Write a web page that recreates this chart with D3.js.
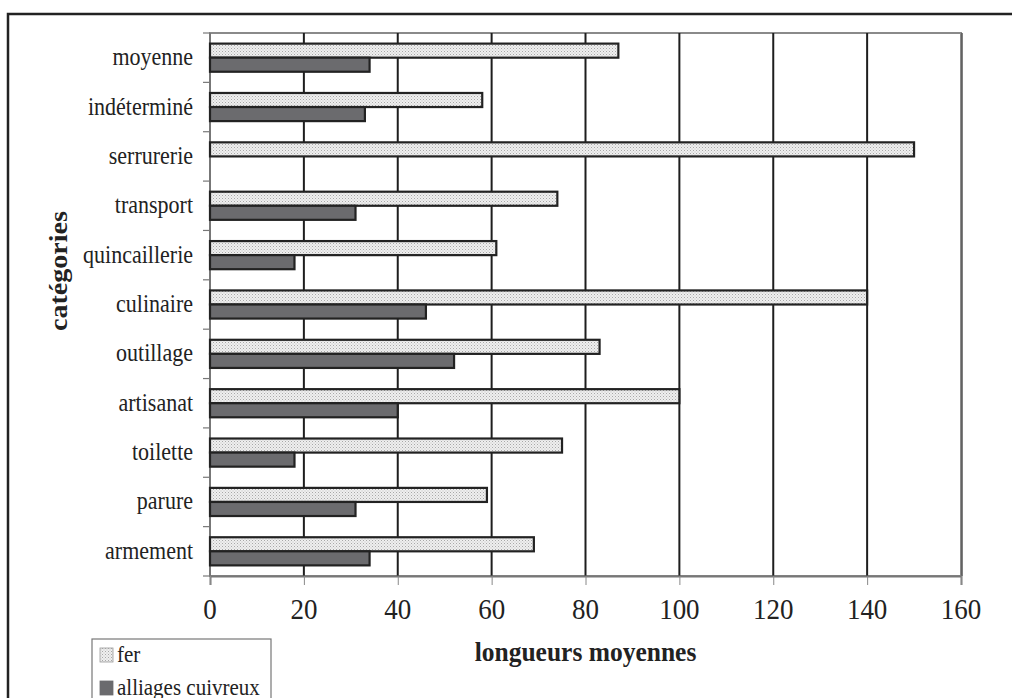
<!DOCTYPE html>
<html><head><meta charset="utf-8">
<script src="https://cdn.jsdelivr.net/npm/d3@7"></script>
<style>body{margin:0;background:#fff}svg{display:block}
svg text{font-family:"Liberation Serif","Times New Roman",Tinos,"DejaVu Serif",serif;}
</style>
</head><body>
<script>
const categories = ["moyenne","indéterminé","serrurerie","transport","quincaillerie","culinaire","outillage","artisanat","toilette","parure","armement"];
const ferValues = [87,58,150,74,61,140,83,100,75,59,69];
const cuivreuxValues = [34,33,0,31,18,46,52,40,18,31,34];
const seriesNames = ["fer","alliages cuivreux"];
const xTicks = [0,20,40,60,80,100,120,140,160];

const W=1012,H=698;
const L=210,R=961,T=33,B=576;
const SY=1.1; // vertical stretch of the source picture's text
const svg=d3.select("body").append("svg").attr("width",W).attr("height",H);
const defs=svg.append("defs");
const pat=defs.append("pattern").attr("id","dots").attr("patternUnits","userSpaceOnUse").attr("width",3).attr("height",3);
pat.append("rect").attr("width",3).attr("height",3).attr("fill","#efefef");
pat.append("rect").attr("x",0).attr("y",0).attr("width",1).attr("height",1).attr("fill","#a8a8a8");
pat.append("rect").attr("x",1.5).attr("y",1.5).attr("width",1).attr("height",1).attr("fill","#c0c0c0");

// outer frame
svg.append("rect").attr("x",8).attr("y",14).attr("width",1010).attr("height",700).attr("fill","none").attr("stroke","#222").attr("stroke-width",2.5);

const x=d3.scaleLinear().domain([0,160]).range([L,R]);
const y=d3.scaleBand().domain(categories).range([T,B]).paddingInner(0.43).paddingOuter(0.215);
const ySub=d3.scaleBand().domain(seriesNames).range([0,y.bandwidth()]);

// plot border (gray)
svg.append("rect").attr("x",L).attr("y",T).attr("width",R-L).attr("height",B-T).attr("fill","none").attr("stroke","#8a8a8a").attr("stroke-width",2);
svg.append("line").attr("x1",R+1).attr("x2",R+1).attr("y1",T).attr("y2",B).attr("stroke","#555").attr("stroke-width",1.5);

// gridlines
svg.append("g").selectAll("line").data(xTicks.filter(d=>d>0&&d<160)).join("line")
 .attr("x1",d=>x(d)).attr("x2",d=>x(d)).attr("y1",T).attr("y2",B)
 .attr("stroke","#1e1e1e").attr("stroke-width",2);

// x axis
const xa=svg.append("g").attr("transform",`translate(0,${B})`).call(d3.axisBottom(x).tickValues(xTicks).tickSize(9).tickFormat(""));
xa.select(".domain").attr("stroke","#777").attr("stroke-width",2);
xa.selectAll(".tick line").attr("stroke","#888");
svg.append("g").selectAll("text").data(xTicks).join("text")
 .attr("transform",d=>`translate(${x(d)},619) scale(1,${SY})`)
 .attr("text-anchor","middle").attr("font-size",27).attr("fill","#222").text(d=>d);

// y axis: tick marks at band boundaries
const bounds=d3.range(categories.length+1).map(i=>T+i*(B-T)/categories.length);
svg.append("g").selectAll("line").data(bounds).join("line")
 .attr("x1",L-7).attr("x2",L).attr("y1",d=>d).attr("y2",d=>d).attr("stroke","#777").attr("stroke-width",1.2);
svg.append("line").attr("x1",L).attr("x2",L).attr("y1",T).attr("y2",B).attr("stroke","#777").attr("stroke-width",2);

// category labels
svg.append("g").selectAll("text").data(categories).join("text")
 .attr("transform",d=>`translate(${L-17},${y(d)+y.bandwidth()/2+7.5}) scale(1,${SY})`)
 .attr("text-anchor","end").attr("font-size",22).attr("fill","#222").text(d=>d);

// bars
const rows=categories.map((c,i)=>({c,fer:ferValues[i],cu:cuivreuxValues[i]}));
const g=svg.append("g");
g.selectAll(".fer").data(rows).join("rect").attr("class","fer")
 .attr("x",x(0)).attr("y",d=>y(d.c)+ySub("fer")).attr("width",d=>x(d.fer)-x(0)).attr("height",ySub.bandwidth())
 .attr("fill","url(#dots)").attr("stroke","#222").attr("stroke-width",2.2);
g.selectAll(".cu").data(rows.filter(d=>d.cu>0)).join("rect").attr("class","cu")
 .attr("x",x(0)).attr("y",d=>y(d.c)+ySub("alliages cuivreux")).attr("width",d=>x(d.cu)-x(0)).attr("height",ySub.bandwidth())
 .attr("fill","#6b6b6e").attr("stroke","#222").attr("stroke-width",2.2);

// axis titles
svg.append("text").attr("transform",`translate(${(L+R)/2},661) scale(1,${SY})`).attr("text-anchor","middle")
 .attr("font-weight","bold").attr("font-size",25.5).attr("fill","#222").text("longueurs moyennes");
svg.append("text").attr("transform",`translate(67,271) scale(1,${SY}) rotate(-90)`).attr("text-anchor","middle")
 .attr("font-weight","bold").attr("font-size",25.5).attr("fill","#222").text("catégories");

// legend
const lg=svg.append("g");
lg.append("rect").attr("x",92).attr("y",639).attr("width",179).attr("height",75).attr("fill","#fff").attr("stroke","#777").attr("stroke-width",1.2);
const fills=["url(#dots)","#6b6b6e"];
seriesNames.forEach((s,i)=>{
  const base=662+i*33;
  lg.append("rect").attr("x",100).attr("y",base-14).attr("width",13).attr("height",14).attr("fill",fills[i]).attr("stroke",i?"#6b6b6e":"#999").attr("stroke-width",0.8);
  lg.append("text").attr("transform",`translate(117,${base}) scale(1,${SY})`).attr("font-size",21).attr("fill","#222").text(s);
});
</script>
</body></html>
